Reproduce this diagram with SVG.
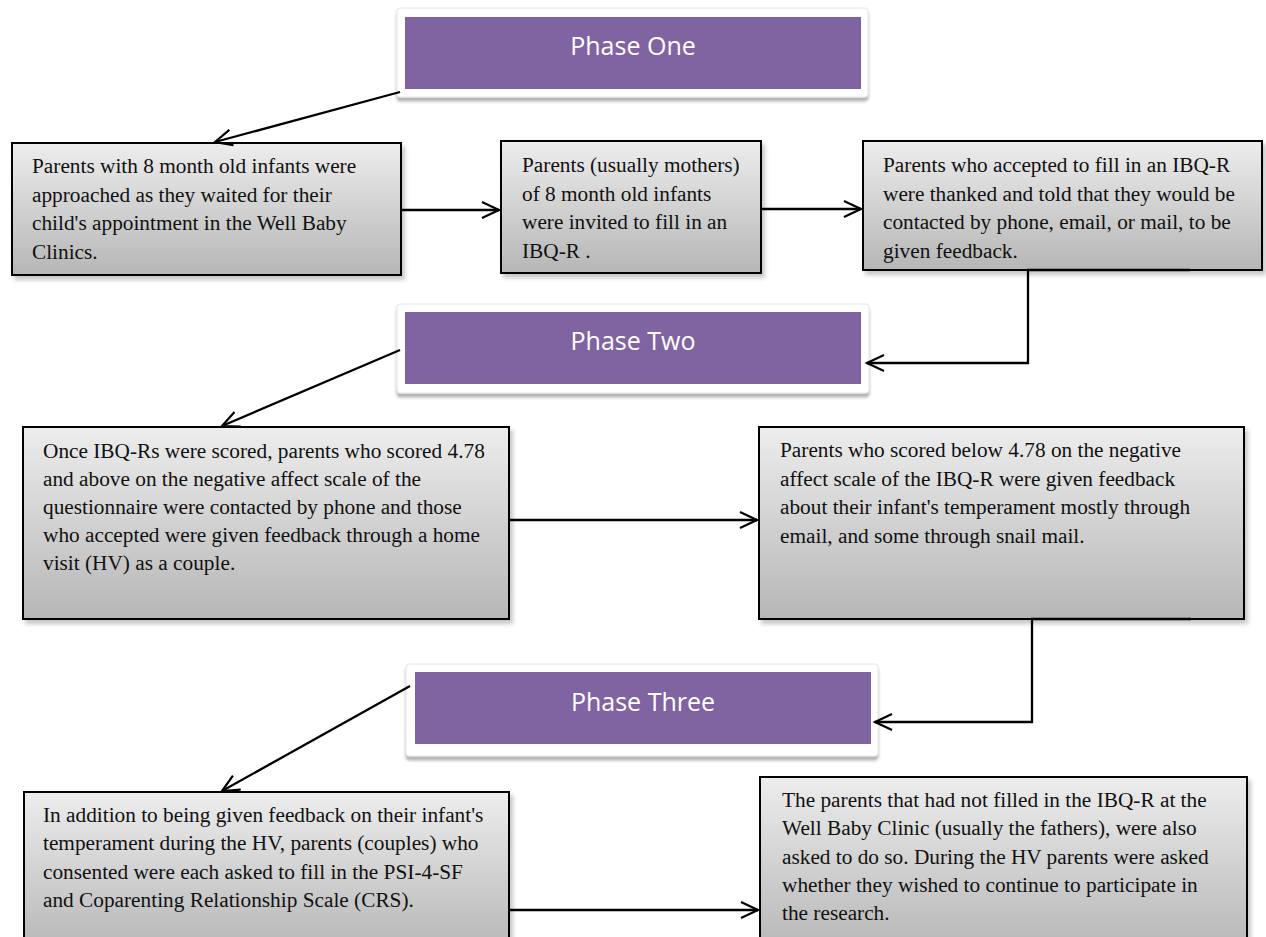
<svg xmlns="http://www.w3.org/2000/svg" width="1266" height="937" viewBox="0 0 1266 937">
<defs>
<linearGradient id="g" x1="0" y1="0" x2="0" y2="1">
<stop offset="0" stop-color="#ededed"/>
<stop offset="1" stop-color="#b6b6b6"/>
</linearGradient>
<filter id="sh" x="-5%" y="-10%" width="115%" height="130%">
<feDropShadow dx="3" dy="4" stdDeviation="2" flood-color="#000" flood-opacity="0.22"/>
</filter>
<filter id="psh" x="-5%" y="-10%" width="110%" height="130%">
<feDropShadow dx="0" dy="4" stdDeviation="1.5" flood-color="#000" flood-opacity="0.3"/>
</filter>
<marker id="ah" viewBox="-20 -11 23 22" refX="0" refY="0" markerWidth="23" markerHeight="22" markerUnits="userSpaceOnUse" orient="auto">
<path d="M-17,-8 L0,0 L-17,8" fill="none" stroke="#000" stroke-width="2.2"/>
</marker>
<style>
.box{fill:url(#g);stroke:#000;stroke-width:2;filter:url(#sh)}
.frame{fill:#fff;stroke:#e4e4e4;stroke-width:1;filter:url(#psh)}
.ph{fill:#8064a2}
.pt{font-family:'Open Sans','Noto Sans',sans-serif;font-size:25px;fill:#fff;text-anchor:middle}
.c{fill:none;stroke:#000;stroke-width:2.3}
</style>
</defs>

<g id="phase1">
<rect class="frame" x="397" y="8" width="471" height="89" rx="3"/>
<rect class="ph" x="405" y="17" width="456" height="72"/>
<text class="pt" x="633" y="55">Phase One</text>
</g>

<g font-family="Liberation Serif, Tinos, DejaVu Serif, serif" font-size="21.3" fill="#111">
<g id="box1">
<rect class="box" x="12" y="143" width="389" height="132"/>
<text><tspan x="32" y="173">Parents with 8 month old infants were</tspan><tspan x="32" y="201.5">approached as they waited for their</tspan><tspan x="32" y="230">child's appointment in the Well Baby</tspan><tspan x="32" y="258.5">Clinics.</tspan></text>
</g>

<g id="box2">
<rect class="box" x="501" y="141" width="260" height="132"/>
<text><tspan x="522" y="172">Parents (usually mothers)</tspan><tspan x="522" y="200.5">of 8 month old infants</tspan><tspan x="522" y="229">were invited to fill in an</tspan><tspan x="522" y="257.5">IBQ-R .</tspan></text>
</g>

<g id="box3">
<rect class="box" x="863" y="141" width="399" height="129"/>
<text><tspan x="883" y="172">Parents who accepted to fill in an IBQ-R</tspan><tspan x="883" y="200.5">were thanked and told that they would be</tspan><tspan x="883" y="229">contacted by phone, email, or mail, to be</tspan><tspan x="883" y="257.5">given feedback.</tspan></text>
</g>

<g id="box4">
<rect class="box" x="23" y="427" width="486" height="192"/>
<text><tspan x="43" y="458">Once IBQ-Rs were scored, parents who scored 4.78</tspan><tspan x="43" y="486">and above on the negative affect scale of the</tspan><tspan x="43" y="514">questionnaire were contacted by phone and those</tspan><tspan x="43" y="542">who accepted were given feedback through a home</tspan><tspan x="43" y="570">visit (HV) as a couple.</tspan></text>
</g>

<g id="box5">
<rect class="box" x="759" y="427" width="485" height="192"/>
<text><tspan x="780" y="457">Parents who scored below 4.78 on the negative</tspan><tspan x="780" y="485.5">affect scale of the IBQ-R were given feedback</tspan><tspan x="780" y="514">about their infant's temperament mostly through</tspan><tspan x="780" y="542.5">email, and some through snail mail.</tspan></text>
</g>

<g id="box6">
<rect class="box" x="24" y="792" width="485" height="160"/>
<text><tspan x="43" y="822">In addition to being given feedback on their infant's</tspan><tspan x="43" y="850">temperament during the HV, parents (couples) who</tspan><tspan x="43" y="878.5">consented were each asked to fill in the PSI-4-SF</tspan><tspan x="43" y="907">and Coparenting Relationship Scale (CRS).</tspan></text>
</g>

<g id="box7">
<rect class="box" x="760" y="777" width="487" height="175"/>
<text><tspan x="782" y="807">The parents that had not filled in the IBQ-R at the</tspan><tspan x="782" y="835">Well Baby Clinic (usually the fathers), were also</tspan><tspan x="782" y="863.5">asked to do so. During the HV parents were asked</tspan><tspan x="782" y="892">whether they wished to continue to participate in</tspan><tspan x="782" y="920">the research.</tspan></text>
</g>
</g>

<g id="phase2">
<rect class="frame" x="397" y="304" width="472" height="89" rx="3"/>
<rect class="ph" x="405" y="312" width="456" height="72"/>
<text class="pt" x="633" y="350">Phase Two</text>
</g>

<g id="phase3">
<rect class="frame" x="406" y="664" width="472" height="92" rx="3"/>
<rect class="ph" x="415" y="672" width="456" height="72"/>
<text class="pt" x="643" y="711">Phase Three</text>
</g>

<g id="connectors">
<path class="c" d="M400,92 L215,142" marker-end="url(#ah)"/>
<path class="c" d="M401,210 L499,210" marker-end="url(#ah)"/>
<path class="c" d="M761,209 L861,209" marker-end="url(#ah)"/>
<path class="c" d="M1190,270 L1028,270 L1028,363 L867,363" marker-end="url(#ah)"/>
<path class="c" d="M400,350 L222,426" marker-end="url(#ah)"/>
<path class="c" d="M509,520 L757,520" marker-end="url(#ah)"/>
<path class="c" d="M1191,619 L1032,619 L1032,722 L875,722" marker-end="url(#ah)"/>
<path class="c" d="M410,686 L222,791" marker-end="url(#ah)"/>
<path class="c" d="M509,910 L758,910" marker-end="url(#ah)"/>
</g>
</svg>
